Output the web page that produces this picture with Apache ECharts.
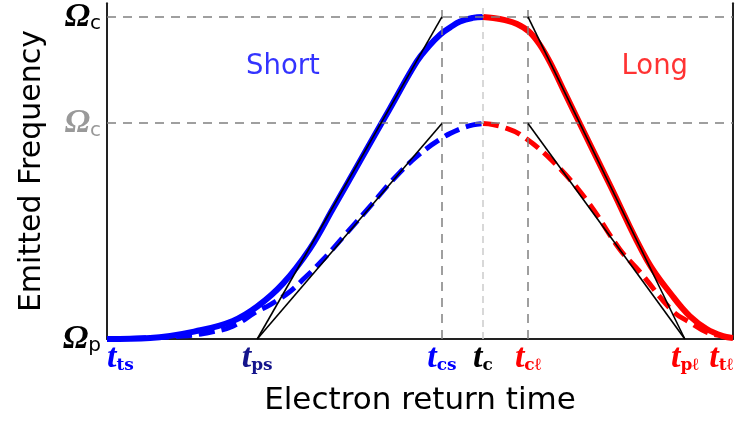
<!DOCTYPE html>
<html>
<head>
<meta charset="utf-8">
<script src="https://cdn.jsdelivr.net/npm/echarts@6/dist/echarts.min.js"></script>
<style>
  html, body { margin: 0; padding: 0; background: #fff; }
  #chart { width: 741px; height: 421px; }
</style>
</head>
<body>
<div id="chart"></div>
<script>
// Characteristic return times (arbitrary time units, 0..100)
const tTS = 0, tPS = 24.0, tCS = 53.5, tC = 60.06, tCL = 67.25, tPL = 92.3, tTL = 100;
const timeTicks = [tTS, tPS, tCS, tC, tCL, tPL, tTL];
const timeTickNames = ['ts', 'ps', 'cs', 'c', 'cℓ', 'pℓ', 'tℓ'];

// Frequency levels (normalised: Ω_p = 0, cutoff = 1)
const omegaP = 0, omegaC = 1, omegaCLow = 0.669;
const freqTicks = [omegaP, omegaCLow, omegaC];

// Full emitted-frequency curve: short branch and long branch
const shortFull = [[0,0],[6.9,0.003],[14.9,0.027],[20.1,0.056],[24.0,0.101],[28.1,0.172],[32.4,0.280],[36.1,0.405],[40.4,0.552],[45.2,0.716],[49.5,0.862],[51.4,0.909],[53.2,0.945],[54.8,0.967],[56.4,0.986],[58.4,0.997],[60.06,1]];
const longFull = [[60.06,1],[61.7,0.997],[63.6,0.99],[65.5,0.978],[67.4,0.955],[69.1,0.915],[70.8,0.858],[73.2,0.762],[75.6,0.666],[80.4,0.476],[86.3,0.244],[90.4,0.132],[93.1,0.071],[95.8,0.031],[98.4,0.009],[100,0.003]];

// Reduced curve (dashed): short branch and long branch
const shortLow = [[0,0],[12.1,0.009],[16.5,0.021],[20.1,0.040],[24.0,0.086],[26.1,0.107],[29.2,0.147],[31.6,0.190],[34.3,0.242],[38.1,0.325],[42.3,0.418],[45.5,0.491],[49.5,0.567],[53.7,0.626],[56.4,0.652],[58.5,0.665],[60.06,0.669]];
const longLow = [[60.06,0.669],[61.6,0.666],[63.4,0.657],[66.0,0.635],[71.2,0.552],[76.7,0.429],[81.9,0.279],[85.1,0.209],[90.4,0.086],[93.1,0.052],[95.8,0.021],[98.4,0.009],[100,0.003]];

// Linear tangents through the inflection regions
const tangents = [
  [[tPS, omegaP], [tCS, omegaC]],
  [[tPS, omegaP], [tCS, omegaCLow]],
  [[tCL, omegaC], [tPL, omegaP]],
  [[tCL, omegaCLow], [tPL, omegaP]]
];

const BLUE = '#0000ff', RED = '#ff0000', NAVY = '#14148c';
const tickColors = [BLUE, NAVY, BLUE, '#000', RED, RED, RED];

const chart = echarts.init(document.getElementById('chart'));

const tRich = {};
timeTickNames.forEach((n, i) => {
  tRich['t' + i] = { fontFamily: 'Liberation Serif', fontStyle: 'italic', fontWeight: 'bold', fontSize: 34, color: tickColors[i] };
  tRich['s' + i] = { fontFamily: 'DejaVu Serif', fontWeight: 'bold', fontSize: 17, color: tickColors[i], padding: [16, 0, 0, 0] };
});

const series = [];
function curve(data, color, dashed) {
  series.push({
    type: 'line', data: data, smooth: 0.4, showSymbol: false, silent: true, z: 3,
    lineStyle: { color: color, width: dashed ? 5 : 6, type: dashed ? [16, 7] : 'solid', cap: 'butt' }
  });
}
curve(shortFull, BLUE, false);
curve(longFull, RED, false);
curve(shortLow, BLUE, true);
curve(longLow, RED, true);

tangents.forEach(seg => {
  series.push({
    type: 'line', data: seg, showSymbol: false, silent: true, z: 5,
    lineStyle: { color: '#000', width: 1.6 }
  });
});

// Reference lines
const refStyle = { color: '#808080', width: 1.5, type: [9, 7] };
series.push({
  type: 'line', data: [], silent: true, z: 1,
  markLine: {
    silent: true, symbol: 'none', label: { show: false },
    data: [
      { yAxis: omegaC, lineStyle: refStyle },
      { yAxis: omegaCLow, lineStyle: refStyle },
      { xAxis: tCS, lineStyle: refStyle },
      { xAxis: tCL, lineStyle: refStyle },
      { xAxis: tC, lineStyle: { color: '#cccccc', width: 1.5, type: [7, 5] } }
    ]
  }
});

// Branch names
series.push({
  type: 'scatter', symbolSize: 0, silent: true, z: 6,
  data: [
    { value: [28.1, 0.844], label: { formatter: 'Short', color: BLUE } },
    { value: [87.5, 0.844], label: { formatter: 'Long', color: RED } }
  ],
  label: { show: true, position: 'inside', fontFamily: 'DejaVu Sans', fontSize: 27.5 }
});

chart.setOption({
  animation: false,
  grid: { left: 107, right: 8, top: 0, bottom: 81 },
  xAxis: {
    type: 'value', min: 0, max: 100,
    name: 'Electron return time', nameLocation: 'middle', nameGap: 46,
    nameTextStyle: { fontFamily: 'DejaVu Sans', fontSize: 31, color: '#000' },
    axisLine: { show: true, onZero: false, lineStyle: { color: '#222', width: 2 } },
    axisTick: { show: false },
    splitLine: { show: false },
    axisLabel: {
      customValues: timeTicks, margin: 2,
      alignMinLabel: 'left', alignMaxLabel: 'right',
      formatter: v => {
        const i = timeTicks.indexOf(v);
        return i < 0 ? '' : '{t' + i + '|t}{s' + i + '|' + timeTickNames[i] + '}';
      },
      rich: tRich
    }
  },
  yAxis: [{
    type: 'value', min: 0, max: 340 / 326,
    name: 'Emitted Frequency', nameLocation: 'middle', nameGap: 60, nameRotate: 90,
    nameTextStyle: { fontFamily: 'DejaVu Sans', fontSize: 30, color: '#000' },
    axisLine: { show: true, lineStyle: { color: '#222', width: 2 } },
    axisTick: { show: false },
    splitLine: { show: false },
    axisLabel: {
      customValues: freqTicks, margin: 6,
      formatter: v => {
        if (v === omegaP) return '{o|Ω}{s|p}';
        if (v === omegaCLow) return '{og|Ω}{sg|c}';
        return '{o|Ω}{s|c}';
      },
      rich: {
        o: { fontFamily: 'Liberation Serif', fontStyle: 'italic', fontWeight: 'bold', fontSize: 34, color: '#000' },
        s: { fontFamily: 'DejaVu Sans', fontSize: 20, color: '#000', padding: [14, 0, 0, 0] },
        og: { fontFamily: 'Liberation Serif', fontStyle: 'italic', fontWeight: 'bold', fontSize: 34, color: '#999' },
        sg: { fontFamily: 'DejaVu Sans', fontSize: 20, color: '#999', padding: [14, 0, 0, 0] }
      }
    }
  }, {
    type: 'value', min: 0, max: 340 / 326, position: 'right',
    axisLine: { show: true, lineStyle: { color: '#222', width: 2 } },
    axisTick: { show: false }, axisLabel: { show: false }, splitLine: { show: false }
  }],
  series: series
});
</script>
</body>
</html>
